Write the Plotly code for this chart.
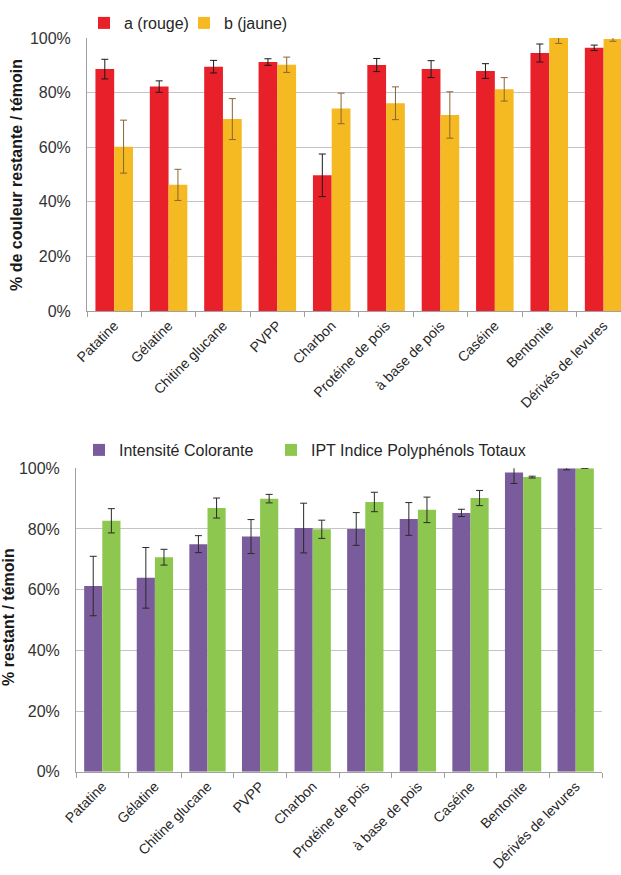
import plotly.graph_objects as go

# Fining agents tested
categories = ["Patatine", "Gélatine", "Chitine glucane", "PVPP", "Charbon",
              "Protéine de pois", "à base de pois", "Caséine", "Bentonite",
              "Dérivés de levures"]

# Colour components a (red) and b (yellow), % remaining vs control
rouge = [88.6, 82.2, 89.5, 91.2, 49.7, 90.1, 88.6, 87.9, 94.5, 96.4]
rouge_err = [3.6, 2.1, 2.3, 1.2, 7.8, 2.4, 3.1, 2.7, 3.3, 1.0]
jaune = [60.2, 46.2, 70.3, 90.2, 74.2, 76.1, 71.8, 81.2, 100.0, 99.6]
jaune_err = [9.7, 5.7, 7.5, 2.8, 5.6, 6.0, 8.5, 4.3, 2.0, 0.8]

# Colour intensity and total polyphenol index, % remaining vs control
intensite = [61.2, 63.9, 75.0, 77.5, 80.3, 80.0, 83.3, 85.3, 98.6, 100.0]
intensite_err = [9.8, 10.0, 2.8, 5.6, 8.2, 5.4, 5.4, 1.2, 3.6, 0.5]
ipt = [82.7, 70.7, 86.9, 90.0, 79.9, 88.9, 86.3, 90.2, 97.1, 100.0]
ipt_err = [4.0, 2.6, 3.3, 1.4, 3.0, 3.2, 4.2, 2.5, 0.3, 0.0]

y_ticks = [0, 20, 40, 60, 80, 100]
y_tick_labels = ["0%", "20%", "40%", "60%", "80%", "100%"]

W, H = 621, 875
FONT = "Liberation Sans, Arial, sans-serif"


def px_x(p):
    return p / W


def px_y(p):
    return 1 - p / H


def err(vals, color):
    return dict(type="data", array=vals, visible=True, color=color,
                thickness=1, width=3.5)


fig = go.Figure()

fig.add_trace(go.Bar(x=categories, y=rouge, name="a (rouge)",
                     marker=dict(color="#E8202A", line=dict(width=0)),
                     error_y=err(rouge_err, "#1a1a1a"),
                     xaxis="x", yaxis="y", legend="legend"))
fig.add_trace(go.Bar(x=categories, y=jaune, name="b (jaune)",
                     marker=dict(color="#F5B921", line=dict(width=0)),
                     error_y=err(jaune_err, "#8a6432"),
                     xaxis="x", yaxis="y", legend="legend2"))
fig.add_trace(go.Bar(x=categories, y=intensite, name="Intensité Colorante",
                     marker=dict(color="#7A5C9C", line=dict(width=0)),
                     error_y=err(intensite_err, "#2a2a2a"),
                     xaxis="x2", yaxis="y2", legend="legend3"))
fig.add_trace(go.Bar(x=categories, y=ipt, name="IPT Indice Polyphénols Totaux",
                     marker=dict(color="#8DC74F", line=dict(width=0)),
                     error_y=err(ipt_err, "#2a2a2a"),
                     xaxis="x2", yaxis="y2", legend="legend4"))

grid = "#c4c4c4"
axis_line = "#a0a0a0"

xcommon = dict(tickangle=-45,
               tickfont=dict(family=FONT, size=14, color="#262626"),
               showline=True, linecolor=axis_line, linewidth=1,
               ticks="outside", tickson="boundaries", ticklen=5,
               tickcolor=axis_line, showgrid=False, zeroline=False)
ycommon = dict(range=[0, 100], tickmode="array", tickvals=y_ticks,
               ticktext=y_tick_labels,
               tickfont=dict(family=FONT, size=16, color="#333333"),
               showline=True, linecolor=axis_line, linewidth=1,
               showgrid=True, gridcolor=grid, gridwidth=1, zeroline=False,
               ticks="", ticklabelstandoff=12)


def legend_at(x_px, y_px):
    return dict(orientation="h", x=px_x(x_px), xanchor="left",
                y=px_y(y_px), yanchor="middle",
                font=dict(family=FONT, size=16, color="#262626"),
                itemwidth=30, bgcolor="rgba(0,0,0,0)")


fig.update_layout(
    width=W, height=H,
    margin=dict(l=0, r=0, t=0, b=0, autoexpand=False),
    paper_bgcolor="white", plot_bgcolor="white",
    barmode="group",
    bargap=0.31, bargroupgap=0,
    showlegend=True,
    xaxis=dict(xcommon, domain=[px_x(87), 1], range=[-0.5, 9.32], anchor="y"),
    yaxis=dict(ycommon, domain=[px_y(311), px_y(38)], anchor="x"),
    xaxis2=dict(xcommon, domain=[px_x(76), px_x(602)], range=[-0.5, 9.5], anchor="y2"),
    yaxis2=dict(ycommon, domain=[px_y(771.7), px_y(468.3)], anchor="x2"),
    legend=legend_at(84, 23),
    legend2=legend_at(184, 23),
    legend3=legend_at(79, 450),
    legend4=legend_at(271, 450),
    annotations=[
        dict(text="<b>% de couleur restante / témoin</b>", textangle=-90,
             x=px_x(17), y=px_y(175), xref="paper", yref="paper",
             xanchor="center", yanchor="middle", showarrow=False,
             font=dict(family=FONT, size=16, color="#1a1a1a")),
        dict(text="<b>% restant / témoin</b>", textangle=-90,
             x=px_x(8), y=px_y(617), xref="paper", yref="paper",
             xanchor="center", yanchor="middle", showarrow=False,
             font=dict(family=FONT, size=16, color="#1a1a1a")),
    ],
)

# Full-bleed page: no default body margin or scrollbars around the figure
fig.write_html(
    "out.html",
    post_script="document.body.style.margin='0';"
                "document.body.style.overflow='hidden';",
)
